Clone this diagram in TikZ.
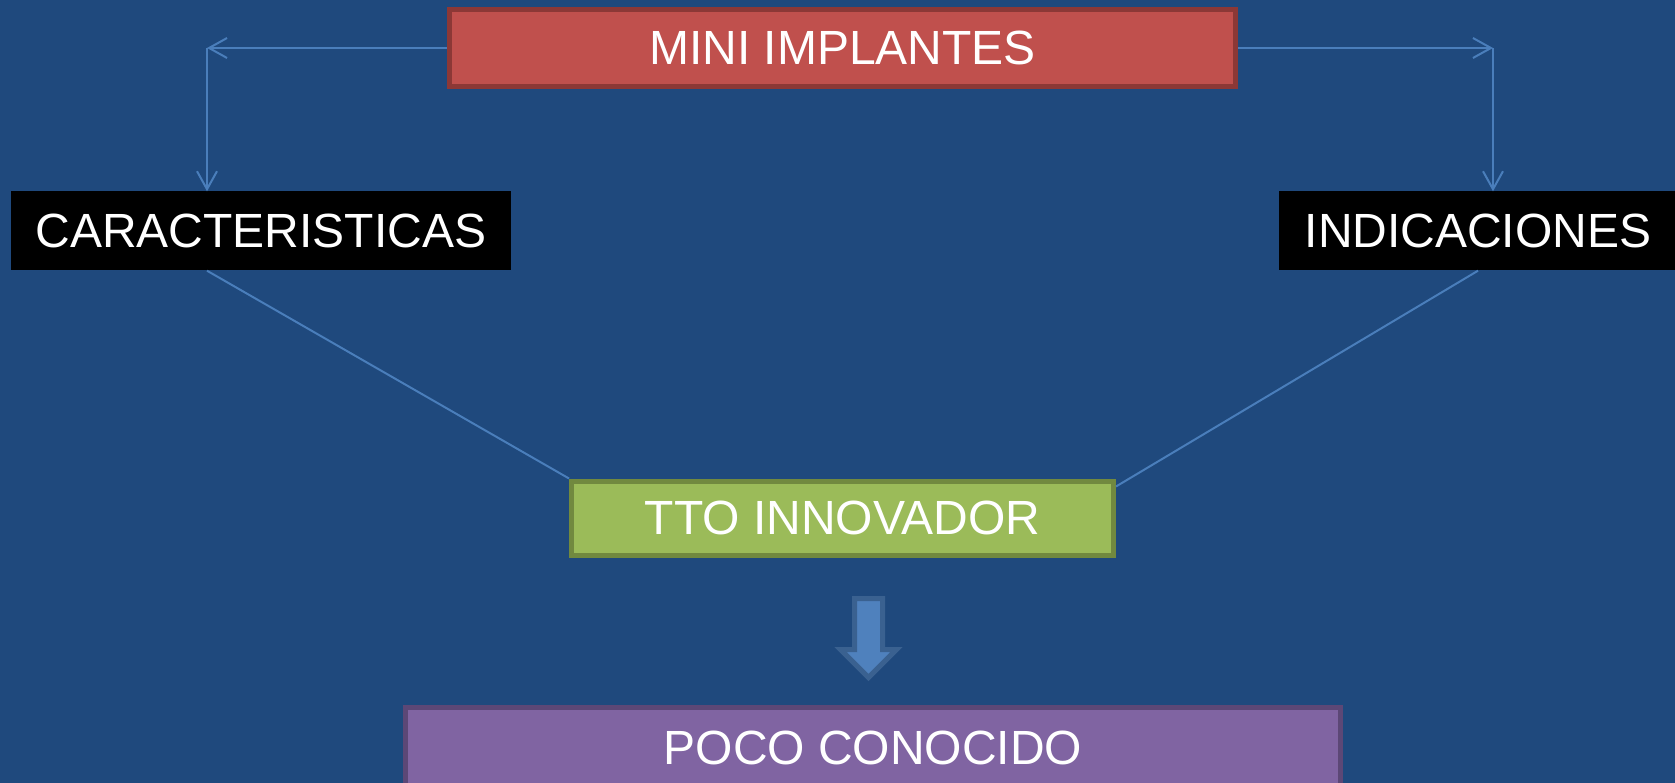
\documentclass[tikz,border=0pt]{standalone}
\usepackage{fontspec}
\setmainfont{Liberation Sans}
\usetikzlibrary{positioning,arrows.meta,shapes.arrows}

\definecolor{slide}{HTML}{1F497D}
\definecolor{linkblue}{HTML}{4A7EBB}
\definecolor{redfill}{HTML}{C0504D}
\definecolor{redline}{HTML}{8C3836}
\definecolor{greenfill}{HTML}{9BBB59}
\definecolor{greenline}{HTML}{71893F}
\definecolor{purplefill}{HTML}{8064A2}
\definecolor{purpleline}{HTML}{5C4776}
\definecolor{pushfill}{HTML}{4F81BD}
\definecolor{pushline}{HTML}{3A6190}

\begin{document}
\begin{tikzpicture}[x=1pt,y=-1pt,on grid,
        >={Straight Barb[length=18pt,width=20pt]},
        every node/.style={text=white,font=\fontsize{48}{56}\selectfont,inner sep=0pt},
        topic/.style={draw=redline,fill=redfill,line width=5pt,minimum width=786pt,minimum height=77pt},
        branch/.style={fill=black,minimum height=79pt},
        result/.style={draw=greenline,fill=greenfill,line width=5pt,minimum width=542pt,minimum height=74pt},
        outcome/.style={draw=purpleline,fill=purplefill,line width=5pt,minimum width=935pt,minimum height=81pt},
        push/.style={single arrow,draw=pushline,fill=pushfill,line width=5pt,inner sep=11.5pt,
            minimum height=79pt,single arrow head extend=14pt,shape border rotate=270},
        link/.style={draw=linkblue,line width=2pt}]
    \useasboundingbox (0,0) rectangle (1675,783);
    \fill[slide] (0,0) rectangle (1675,783);

    \node[topic] (mini) at (842.5,48) {MINI IMPLANTES};
    \node[branch,minimum width=500pt] (caract) [below left=183pt and 581.5pt of mini] {CARACTERISTICAS};
    \node[branch,minimum width=398pt] (indic) [below right=183pt and 635.5pt of mini] {INDICACIONES};
    \node[result] (tto) [below=470pt of mini] {TTO INNOVADOR};
    \node[push] (arrow) [below right=113pt and 26pt of tto] {};
    \node[outcome] (poco) [below right=230pt and 30.5pt of tto] {POCO CONOCIDO};

    \coordinate (cl) at (207,48);
    \coordinate (cr) at (1493,48);
    \draw[link,->] (mini.west) -- (cl);
    \draw[link,->] (cl) -- (cl |- caract.north);
    \draw[link,->] (mini.east) -- (cr);
    \draw[link,->] (cr) -- (cr |- indic.north);
    \draw[link] (cl |- caract.south) -- (tto.north west);
    \draw[link] (indic.south) -- ([yshift=-8pt]tto.north east);
\end{tikzpicture}
\end{document}
